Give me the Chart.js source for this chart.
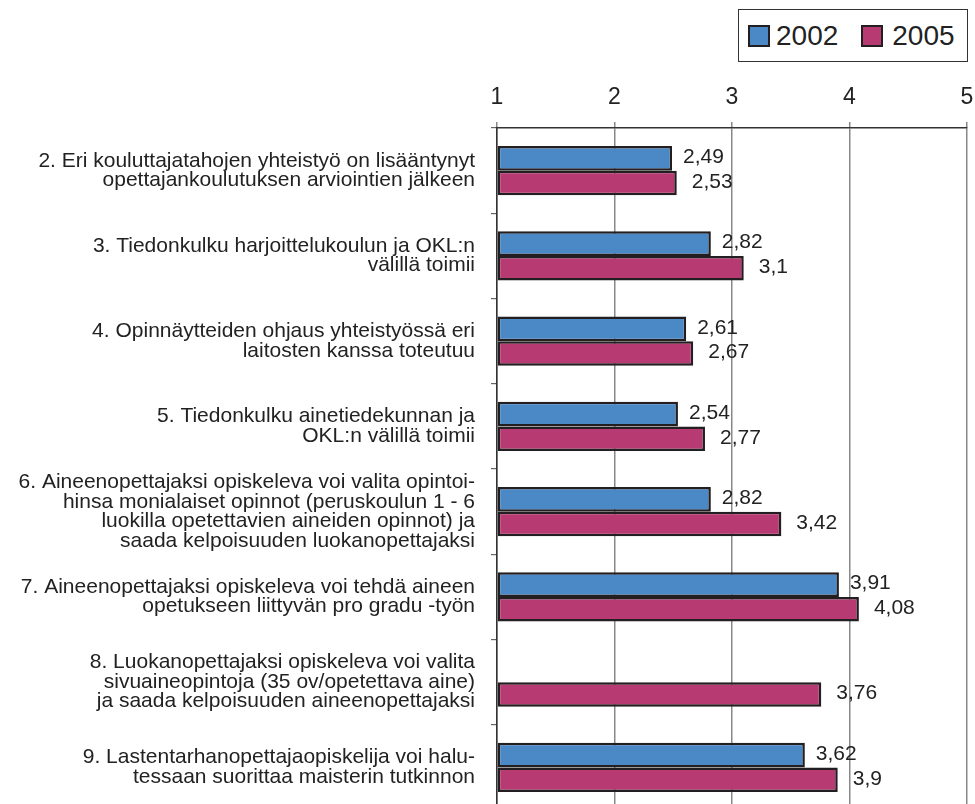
<!DOCTYPE html>
<html>
<head>
<meta charset="utf-8">
<script src="https://cdn.jsdelivr.net/npm/chart.js@4/dist/chart.umd.min.js"></script>
<style>
  html, body { margin: 0; padding: 0; background: #fff; overflow: hidden; }
  #wrap { position: relative; width: 975px; height: 815px; }
  #legend {
    position: absolute; left: 738px; top: 9px; width: 228px; height: 51px;
    border: 1.5px solid #333; background: #fff;
    font-family: "Liberation Sans", Arial, sans-serif; font-size: 28px; color: #222;
    display: flex; align-items: center; box-sizing: content-box;
  }
  #legend .box { display: inline-block; width: 18px; height: 18px; border: 2px solid #231f20; margin: 0 6px 0 9px; }
</style>
</head>
<body>
<div id="wrap">
  <canvas id="chart" width="975" height="815"></canvas>
  <div id="legend">
    <span class="box" style="background:#4a88c6"></span><span>2002</span>
    <span class="box" style="background:#b83a72; margin-left:23px; margin-right:9px"></span><span>2005</span>
  </div>
</div>
<script>
const labels = [
    ['2. Eri kouluttajatahojen yhteistyö on lisääntynyt', 'opettajankoulutuksen arviointien jälkeen'],
    ['3. Tiedonkulku harjoittelukoulun ja OKL:n', 'välillä toimii'],
    ['4. Opinnäytteiden ohjaus yhteistyössä eri', 'laitosten kanssa toteutuu'],
    ['5. Tiedonkulku ainetiedekunnan ja', 'OKL:n välillä toimii'],
    ['6. Aineenopettajaksi opiskeleva voi valita opintoi-', 'hinsa monialaiset opinnot (peruskoulun 1 - 6', 'luokilla opetettavien aineiden opinnot) ja', 'saada kelpoisuuden luokanopettajaksi'],
    ['7. Aineenopettajaksi opiskeleva voi tehdä aineen', 'opetukseen liittyvän pro gradu -työn'],
    ['8. Luokanopettajaksi opiskeleva voi valita', 'sivuaineopintoja (35 ov/opetettava aine)', 'ja saada kelpoisuuden aineenopettajaksi'],
    ['9. Lastentarhanopettajaopiskelija voi halu-', 'tessaan suorittaa maisterin tutkinnon']
];
const values2002 = [2.49, 2.82, 2.61, 2.54, 2.82, 3.91, null, 3.62];
const values2005 = [2.53, 3.1, 2.67, 2.77, 3.42, 4.08, 3.76, 3.9];
const xTicks = [1, 2, 3, 4, 5];

const font = '"Liberation Sans", Arial, sans-serif';

// value labels next to bar ends, with decimal comma
const valueLabels = {
    id: 'valueLabels',
    afterDatasetsDraw(chart) {
        const ctx = chart.ctx;
        ctx.save();
        ctx.font = '21px ' + font;
        ctx.fillStyle = '#222';
        ctx.textBaseline = 'middle';
        ctx.textAlign = 'left';
        chart.data.datasets.forEach((ds, i) => {
            const gap = i === 0 ? 11 : 15;
            chart.getDatasetMeta(i).data.forEach((bar, j) => {
                const v = ds.data[j];
                if (v == null) return;
                ctx.fillText(String(v).replace('.', ','), bar.x + gap, bar.y - 1);
            });
        });
        ctx.restore();
    }
};

new Chart(document.getElementById('chart'), {
    type: 'bar',
    data: {
        labels: labels,
        datasets: [
            { label: '2002', data: values2002, backgroundColor: '#4a88c6' },
            { label: '2005', data: values2005, backgroundColor: '#b83a72' }
        ]
    },
    options: {
        indexAxis: 'y',
        responsive: false,
        animation: false,
        base: 1,
        borderColor: '#231f20',
        borderWidth: 2.5,
        borderSkipped: false,
        categoryPercentage: 0.58,
        barPercentage: 1,
        layout: { padding: { left: 0, top: 0, right: 8, bottom: 5 } },
        plugins: { legend: { display: false }, tooltip: { enabled: false } },
        scales: {
            x: {
                position: 'top',
                min: 1, max: 5,
                afterBuildTicks: s => { s.ticks = xTicks.map(v => ({ value: v })); },
                afterFit: s => { s.height = 128; s.paddingLeft = 0; s.paddingRight = 0; },
                ticks: { font: { family: font, size: 23 }, color: '#222', padding: 11 },
                grid: { color: '#888', lineWidth: 1.5, tickLength: 6 },
                border: { color: '#333', width: 1.5 }
            },
            y: {
                afterFit: s => { s.width = 497; s.paddingTop = 0; s.paddingBottom = 0; },
                ticks: { font: { family: font, size: 21, lineHeight: 0.93 }, color: '#222', padding: 16 },
                grid: { offset: true, drawOnChartArea: false, tickLength: 6, color: '#666', lineWidth: 1.2 },
                border: { color: '#333', width: 1.5 }
            }
        }
    },
    plugins: [valueLabels]
});
</script>
</body>
</html>
